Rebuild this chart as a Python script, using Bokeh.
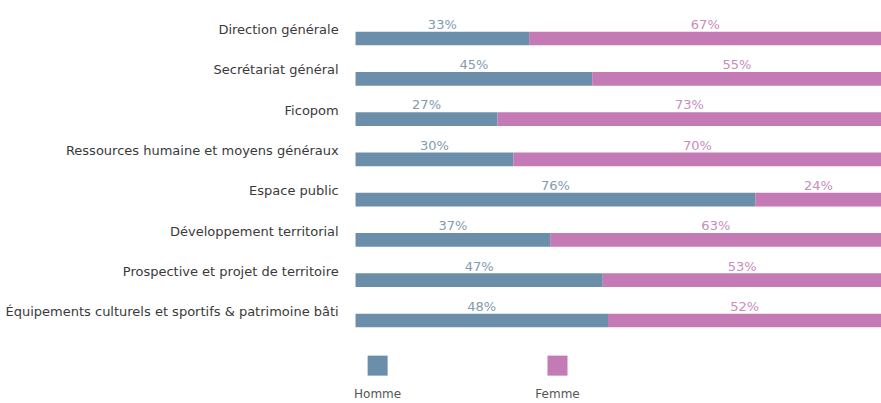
from bokeh.plotting import figure
from bokeh.models import ColumnDataSource, Range1d
from bokeh.core.properties import value
from bokeh.embed import file_html
from bokeh.resources import INLINE

categories = [
    "Direction générale",
    "Secrétariat général",
    "Ficopom",
    "Ressources humaine et moyens généraux",
    "Espace public",
    "Développement territorial",
    "Prospective et projet de territoire",
    "Équipements culturels et sportifs & patrimoine bâti",
]
homme = [33, 45, 27, 30, 76, 37, 47, 48]
femme = [67, 55, 73, 70, 24, 63, 53, 52]
series_names = ["Homme", "Femme"]

C_H = "#6b8fab"
C_F = "#c47ab4"
T_H = "#7f9cb2"
T_F = "#c98cc0"
FONT = "DejaVu Sans"

rows = list(range(len(categories)))
src = ColumnDataSource(dict(
    y=rows,
    cat=categories,
    h_end=homme,
    f_start=homme,
    f_end=[a + b for a, b in zip(homme, femme)],
    h_mid=[a / 2 for a in homme],
    f_mid=[a + b / 2 for a, b in zip(homme, femme)],
    h_lab=[f"{v}%" for v in homme],
    f_lab=[f"{v}%" for v in femme],
    y_lab=[r - 0.35 for r in rows],
    y_cat=[r - 0.22 for r in rows],
))

p = figure(width=881, height=403, output_backend="svg", toolbar_location=None,
           x_range=Range1d(-67.5, 100), y_range=Range1d(9.06, -0.943),
           min_border=0)
p.axis.visible = False
p.grid.visible = False
p.outline_line_color = None

p.hbar(y="y", left=0, right="h_end", height=0.34, source=src,
       fill_color=C_H, line_color=None)
p.hbar(y="y", left="f_start", right="f_end", height=0.34, source=src,
       fill_color=C_F, line_color=None)

p.text(x="h_mid", y="y_lab", text="h_lab", source=src, text_align="center",
       text_baseline="middle", text_font=value(FONT), text_font_size="13px",
       text_color=T_H)
p.text(x="f_mid", y="y_lab", text="f_lab", source=src, text_align="center",
       text_baseline="middle", text_font=value(FONT), text_font_size="13px",
       text_color=T_F)
p.text(x=-3.2, y="y_cat", text="cat", source=src, text_align="right",
       text_baseline="middle", text_font=value(FONT), text_font_size="13px",
       text_color="#3a3a3a")

# legend (drawn below the bars)
leg = ColumnDataSource(dict(
    x=[4.2, 38.4],
    ys=[8.12, 8.12],
    yt=[8.82, 8.82],
    name=series_names,
    color=[C_H, C_F],
))
p.scatter(x="x", y="ys", marker="square", size=20, fill_color="color",
          line_color=None, source=leg)
p.text(x="x", y="yt", text="name", source=leg, text_align="center",
       text_baseline="middle", text_font=value(FONT), text_font_size="12px",
       text_color="#555555")

open("out.html", "w").write(file_html(p, INLINE))
